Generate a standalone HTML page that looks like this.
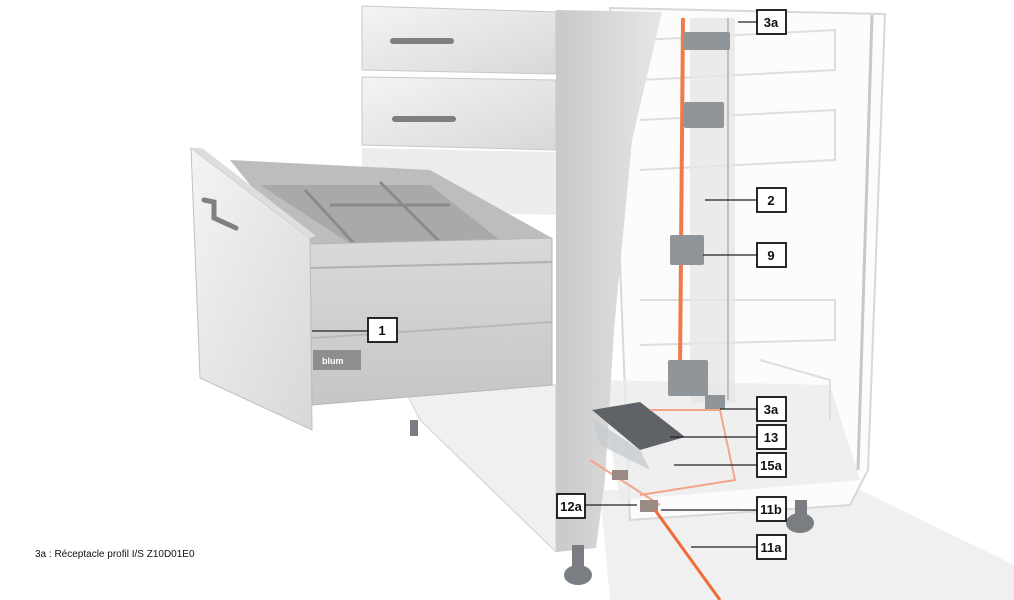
<!DOCTYPE html>
<html><head><meta charset="utf-8"><style>
html,body{margin:0;padding:0;background:#fff;}
svg{display:block;}
text{font-family:"Liberation Sans",Arial,sans-serif;}
</style></head><body>
<svg width="1014" height="600" viewBox="0 0 1014 600" xmlns="http://www.w3.org/2000/svg">
<defs>
<linearGradient id="fr" x1="0" y1="0" x2="1" y2="1"><stop offset="0" stop-color="#f4f4f4"/><stop offset="1" stop-color="#d8d8d8"/></linearGradient>
<linearGradient id="side" x1="0" y1="0" x2="1" y2="0"><stop offset="0" stop-color="#c9c9c9"/><stop offset="1" stop-color="#e6e6e6"/></linearGradient>
<linearGradient id="dr" x1="0" y1="0" x2="0" y2="1"><stop offset="0" stop-color="#d9d9d9"/><stop offset="1" stop-color="#c6c6c6"/></linearGradient>
</defs>
<!-- floor -->
<polygon points="600,490 860,490 1014,565 1014,600 610,600" fill="#f0f0f0"/>
<!-- cabinet transparent interior -->
<polygon points="610,8 885,14 868,470 850,505 630,520" fill="#fcfcfc" stroke="#d8d8d8" stroke-width="2"/>
<line x1="872" y1="15" x2="858" y2="470" stroke="#c8c8c8" stroke-width="3"/>
<polygon points="600,380 830,385 860,480 620,500" fill="#ebebeb" opacity="0.8"/>
<!-- interior drawer outlines -->
<g fill="none" stroke="#dedede" stroke-width="2">
<path d="M640,40 L835,30 L835,70 L640,80"/>
<path d="M640,120 L835,110 L835,160 L640,170"/>
<path d="M640,300 L835,300 L835,340 L640,345"/>
<path d="M760,360 L830,380 L830,420"/>
</g>
<!-- vertical profiles -->
<rect x="690" y="18" width="45" height="385" fill="#e6e6e6" opacity="0.8"/>
<line x1="728" y1="18" x2="728" y2="400" stroke="#c0c0c0" stroke-width="2"/>
<line x1="683" y1="18" x2="680" y2="370" stroke="#f07a4a" stroke-width="4"/>
<g fill="#8f9599">
<rect x="684" y="32" width="46" height="18" rx="2"/><rect x="684" y="102" width="40" height="26" rx="2"/>
<rect x="670" y="235" width="34" height="30" rx="2"/><rect x="668" y="360" width="40" height="36" rx="2"/>
<rect x="705" y="395" width="20" height="14"/>
</g>
<!-- cabinet side panel -->
<polygon points="556,10 662,12 632,140 614,330 605,480 596,548 556,552" fill="url(#side)"/>
<!-- top drawers -->
<polygon points="362,6 556,12 556,74 362,70" fill="url(#fr)" stroke="#c8c8c8"/>
<rect x="390" y="38" width="64" height="6" rx="3" fill="#7d7f82"/>
<polygon points="362,77 556,80 556,150 362,145" fill="url(#fr)" stroke="#c8c8c8"/>
<rect x="392" y="116" width="64" height="6" rx="3" fill="#7d7f82"/>
<polygon points="362,148 556,152 556,215 362,210" fill="#ededed"/>
<!-- lower cabinet front -->
<polygon points="400,380 556,385 556,552 420,420" fill="#f0f0f0" stroke="#d0d0d0"/>
<!-- open drawer back/inner -->
<polygon points="230,160 430,170 552,238 552,260 312,262" fill="#bdbdbd"/>
<polygon points="260,185 430,185 500,240 360,250" fill="#a9a9a9"/>
<g stroke="#8a8a8a" stroke-width="3"><line x1="305" y1="190" x2="360" y2="250"/><line x1="380" y1="182" x2="440" y2="242"/><line x1="330" y1="205" x2="450" y2="205"/></g>
<!-- drawer side -->
<polygon points="310,244 552,238 552,385 312,405" fill="url(#dr)" stroke="#b5b5b5"/>
<line x1="310" y1="268" x2="552" y2="262" stroke="#b0b0b0" stroke-width="2"/>
<line x1="312" y1="338" x2="552" y2="322" stroke="#b8b8b8" stroke-width="2"/>
<rect x="313" y="350" width="48" height="20" fill="#8e8e8e"/>
<text x="322" y="364" font-size="9" fill="#fff" font-weight="bold">blum</text>
<!-- drawer front -->
<polygon points="191,148 310,238 312,430 200,378" fill="url(#fr)" stroke="#c0c0c0"/>
<polygon points="191,148 202,148 316,236 310,238" fill="#dedede"/>
<path d="M204,200 L214,202 L214,218 L236,228" fill="none" stroke="#7d7f82" stroke-width="5" stroke-linecap="round"/>
<!-- feet -->
<g fill="#7a7e82">
<rect x="572" y="545" width="12" height="25"/><ellipse cx="578" cy="575" rx="14" ry="10"/>
<rect x="795" y="500" width="12" height="20"/><ellipse cx="800" cy="523" rx="14" ry="10"/>
<rect x="410" y="420" width="8" height="16"/>
</g>
<!-- bottom elements -->
<polygon points="592,410 640,402 685,437 640,450" fill="#5f6368"/>
<polygon points="592,418 640,450 650,470 600,445" fill="#c8ccd0" opacity="0.8"/>
<path d="M650,410 L720,410 L735,480 L640,495" fill="none" stroke="#f3a58a" stroke-width="2"/>
<path d="M590,460 L660,505" fill="none" stroke="#f3a58a" stroke-width="2"/>
<rect x="612" y="470" width="16" height="10" fill="#9a8a86"/><rect x="640" y="500" width="18" height="12" fill="#9a8a86"/>
<line x1="655" y1="510" x2="720" y2="600" stroke="#f06a3a" stroke-width="3"/>
<!-- leaders -->
<g stroke="#222" stroke-width="1.3">
<line x1="738" y1="22" x2="757" y2="22"/><line x1="705" y1="200" x2="757" y2="200"/>
<line x1="703" y1="255" x2="757" y2="255"/><line x1="312" y1="331" x2="368" y2="331"/>
<line x1="720" y1="409" x2="757" y2="409"/><line x1="670" y1="437" x2="757" y2="437"/>
<line x1="674" y1="465" x2="757" y2="465"/><line x1="585" y1="505" x2="637" y2="505"/>
<line x1="661" y1="510" x2="757" y2="510"/><line x1="691" y1="547" x2="757" y2="547"/>
</g>
<!-- labels -->
<g font-size="13" font-weight="bold" fill="#111" text-anchor="middle">
<g fill="#fff" stroke="#111" stroke-width="1.8">
<rect x="757" y="10" width="29" height="24"/><rect x="757" y="188" width="29" height="24"/>
<rect x="757" y="243" width="29" height="24"/><rect x="368" y="318" width="29" height="24"/>
<rect x="757" y="397" width="29" height="24"/><rect x="757" y="425" width="29" height="24"/>
<rect x="757" y="453" width="29" height="24"/><rect x="557" y="494" width="28" height="24"/>
<rect x="757" y="497" width="29" height="24"/><rect x="757" y="535" width="29" height="24"/>
</g>
<text x="771" y="27">3a</text><text x="771" y="205">2</text><text x="771" y="260">9</text>
<text x="382" y="335">1</text><text x="771" y="414">3a</text><text x="771" y="442">13</text>
<text x="771" y="470">15a</text><text x="571" y="511">12a</text><text x="771" y="514">11b</text>
<text x="771" y="552">11a</text>
</g>
<text x="35" y="557" font-size="10" fill="#111">3a : Réceptacle  profil I/S    Z10D01E0</text>
</svg>
</body></html>
